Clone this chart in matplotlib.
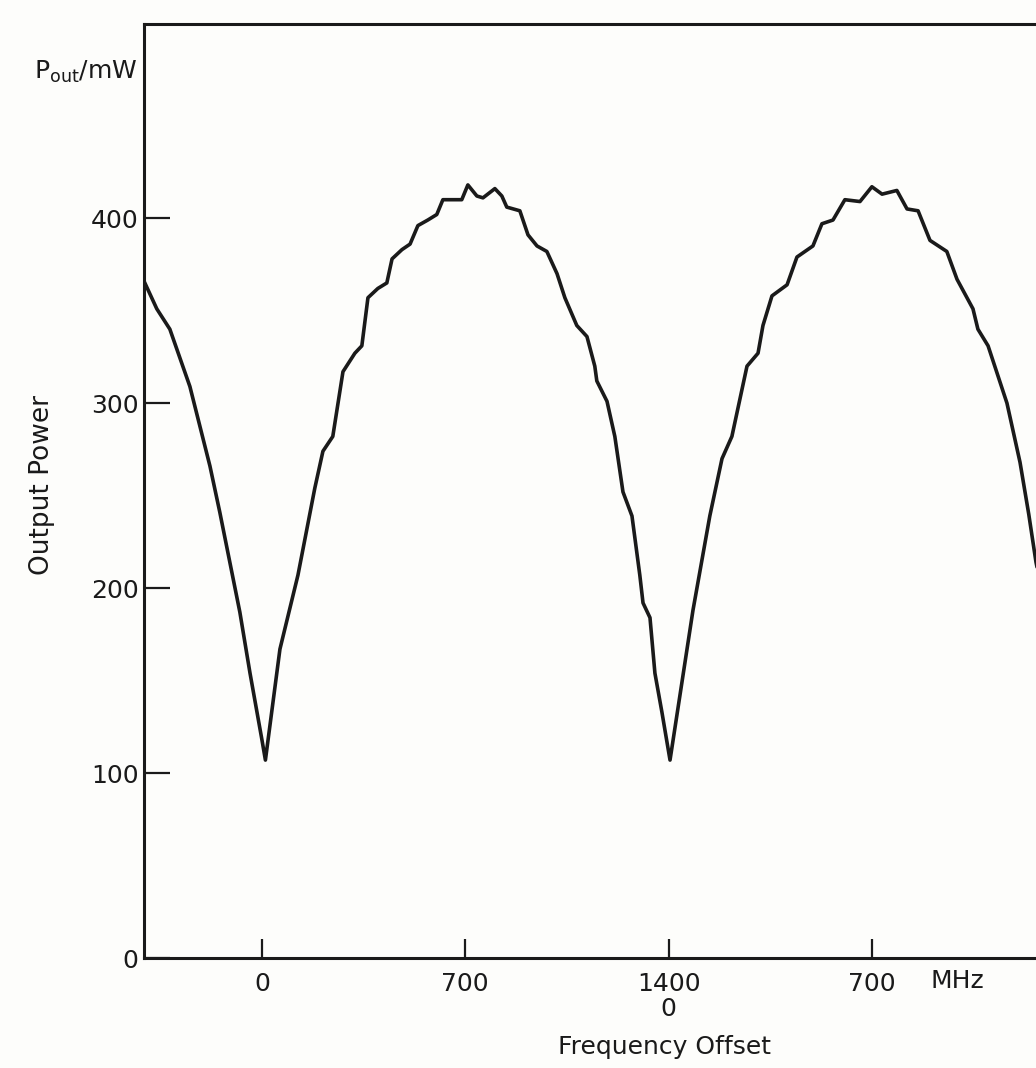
#!/usr/bin/env python3
"""
Output power vs frequency offset (digitised trace)
"""

import matplotlib.pyplot as plt
import numpy as np

# frequency offset (MHz, continuous scale; second period relabelled from 0)
freq_mhz = [-406, -362, -317, -248, -179, -145, -76, -41, 0, 12,
            62, 124, 182, 210, 244, 279, 320, 344, 365, 399, 430, 448, 482, 510,
            537, 571, 602, 623, 657, 688, 709, 740, 761, 802, 826, 843, 888, 916,
            947, 981, 1016, 1043, 1084, 1119, 1146, 1153, 1188, 1215, 1243, 1274,
            1301, 1312, 1336, 1353, 1377, 1405,
            1484, 1542, 1584, 1618, 1670, 1708, 1725, 1756, 1808, 1842, 1897,
            1928, 1966, 2007, 2059, 2100, 2135, 2186, 2221, 2259, 2300, 2358,
            2393, 2448, 2465, 2500, 2565, 2610, 2640, 2665, 2690]

# output power (mW)
power_mw = [366, 351, 340, 309, 266, 241, 187, 154, 118, 107,
            167, 207, 254, 274, 282, 317, 327, 331, 357, 362, 365, 378, 383, 386,
            396, 399, 402, 410, 410, 410, 418, 412, 411, 416, 412, 406, 404, 391,
            385, 382, 370, 357, 342, 336, 320, 312, 301, 282, 252, 239,
            207, 192, 184, 154, 133, 107,
            188, 239, 270, 282, 320, 327, 342, 358, 364, 379, 385,
            397, 399, 410, 409, 417, 413, 415, 405, 404, 388, 382,
            367, 351, 340, 331, 300, 268, 240, 214, 195]

xtick_pos = [0, 700, 1400, 2100]
xtick_labels = ['0', '700', '1400\n0', '700']
ytick_pos = [0, 100, 200, 300, 400]

W, H = 1036, 1068
FONT = 'DejaVu Sans'
FS = 18

fig = plt.figure(figsize=(W / 100, H / 100), dpi=100)
fig.patch.set_facecolor('#fdfdfb')

# right edge of the axes sits on the figure edge (the scan is cropped there)
ax = fig.add_axes([144 / W, 1 - 958 / H, (W - 144) / W, (958 - 24) / H])
ax.set_facecolor('#fdfdfb')

ax.plot(freq_mhz, power_mw, color='#1a1a1a', linewidth=2.6,
        solid_joinstyle='round', solid_capstyle='round')

ax.set_xlim(-406, 2665)
ax.set_ylim(0, 505)

for side in ['left', 'bottom', 'top']:
    ax.spines[side].set_linewidth(2.2)
    ax.spines[side].set_color('#1a1a1a')
ax.spines['right'].set_visible(False)

ax.set_xticks(xtick_pos)
ax.set_xticklabels(xtick_labels, fontsize=FS, family=FONT, linespacing=1.05)
ax.set_yticks(ytick_pos)
ax.set_yticklabels([str(v) for v in ytick_pos], fontsize=FS, family=FONT)
ax.tick_params(axis='x', direction='in', length=14, width=1.6, pad=10,
               colors='#1a1a1a')
ax.tick_params(axis='y', direction='in', length=19, width=1.6, pad=4,
               colors='#1a1a1a')

# axis texts
fig.text(137 / W, 1 - 72 / H, r'P$_{\mathregular{out}}$/mW', ha='right',
         va='center', fontsize=FS, family=FONT, color='#1a1a1a')
fig.text(42 / W, 1 - 485 / H, 'Output Power', rotation=90, ha='center',
         va='center', fontsize=FS + 1, family=FONT, color='#1a1a1a')
fig.text(957 / W, 1 - 981 / H, 'MHz', ha='center', va='center',
         fontsize=FS, family=FONT, color='#1a1a1a')
fig.text(665 / W, 1 - 1047 / H, 'Frequency Offset', ha='center', va='center',
         fontsize=FS, family=FONT, color='#1a1a1a')

plt.savefig('out.png', dpi=100, facecolor=fig.get_facecolor())
